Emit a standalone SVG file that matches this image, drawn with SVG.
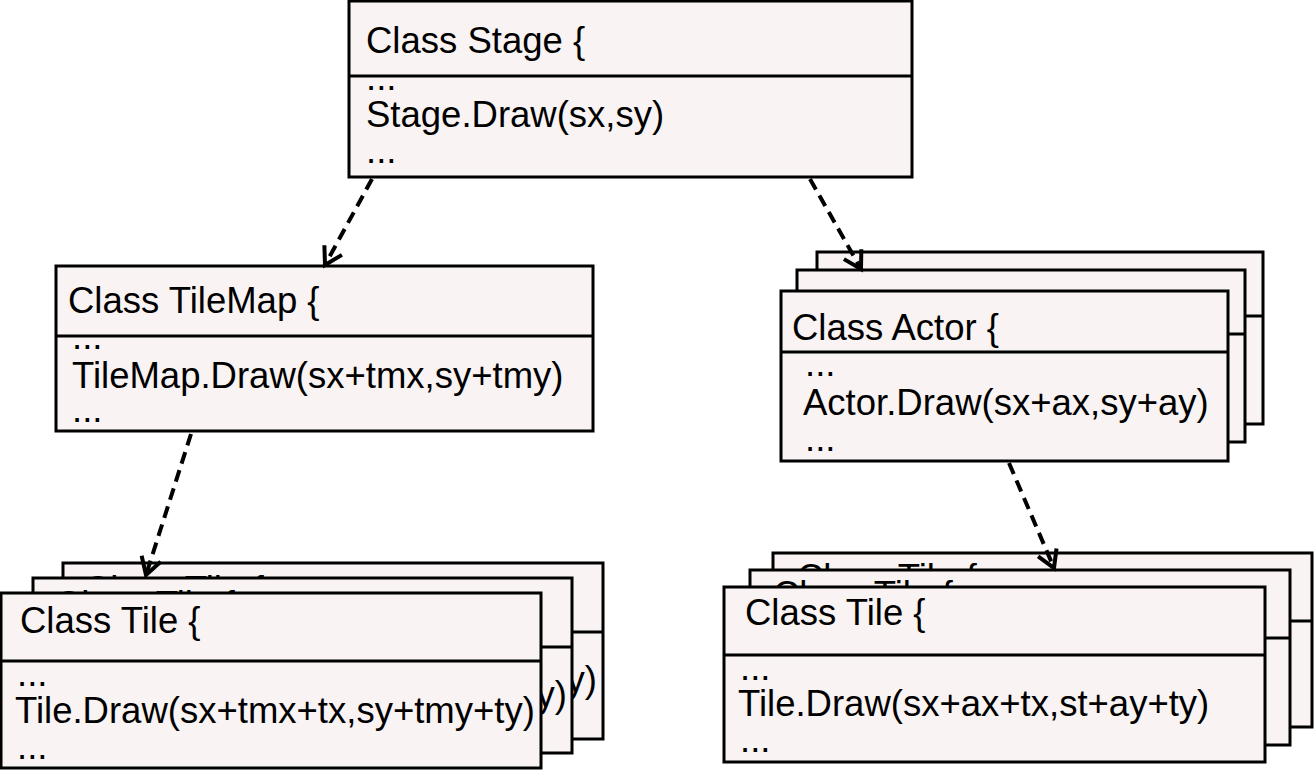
<svg xmlns="http://www.w3.org/2000/svg" width="1315" height="770" viewBox="0 0 1315 770">
  <style>
    .box { fill: #f9f3f3; stroke: #000; stroke-width: 3; }
    .div { stroke: #000; stroke-width: 3; fill: none; }
    .t { font-family: "Liberation Sans", Arial, sans-serif; font-size: 36.5px; fill: #000; }
    .e { text-anchor: end; }
    .conn { stroke: #000; stroke-width: 4; fill: none; stroke-dasharray: 12 7; }
  </style>
  <defs>
    <marker id="arr" markerUnits="userSpaceOnUse" viewBox="-20 -13 24 26" markerWidth="24" markerHeight="26" refX="0" refY="0" orient="auto">
      <path d="M -17 -10 L 0 0 L -17 10" fill="none" stroke="#000" stroke-width="4" stroke-dasharray="none"/>
    </marker>
    <clipPath id="clipLB"><rect x="63" y="563" width="540" height="15"/></clipPath>
    <clipPath id="clipLM"><rect x="33" y="578" width="539" height="15"/></clipPath>
    <clipPath id="clipRB"><rect x="773" y="553" width="539" height="17"/></clipPath>
    <clipPath id="clipRM"><rect x="750" y="570" width="540" height="17"/></clipPath>
  </defs>
  <rect width="1315" height="770" fill="#fff"/>

  <g id="stage">
    <rect class="box" x="349" y="1" width="563" height="176"/>
    <line class="div" x1="349" y1="76" x2="912" y2="76"/>
    <text class="t" x="366" y="53">Class Stage {</text>
    <text class="t" x="366" y="90">...</text>
    <text class="t" x="366" y="127">Stage.Draw(sx,sy)</text>
    <text class="t" x="366" y="163">...</text>
  </g>

  <g id="tilemap">
    <rect class="box" x="56" y="266" width="537" height="165"/>
    <line class="div" x1="56" y1="336" x2="593" y2="336"/>
    <text class="t" x="68" y="313">Class TileMap {</text>
    <text class="t" x="72" y="349">...</text>
    <text class="t" x="72" y="388">TileMap.Draw(sx+tmx,sy+tmy)</text>
    <text class="t" x="72" y="422">...</text>
  </g>

  <g id="actor-back">
    <rect class="box" x="817" y="252" width="446" height="172"/>
    <line class="div" x1="817" y1="316" x2="1263" y2="316"/>
  </g>
  <g id="actor-mid">
    <rect class="box" x="797" y="270" width="448" height="172"/>
    <line class="div" x1="797" y1="334" x2="1245" y2="334"/>
  </g>
  <g id="actor">
    <rect class="box" x="781" y="291" width="447" height="170"/>
    <line class="div" x1="781" y1="352" x2="1228" y2="352"/>
    <text class="t" x="792" y="340">Class Actor {</text>
    <text class="t" x="805" y="376">...</text>
    <text class="t" x="803" y="415">Actor.Draw(sx+ax,sy+ay)</text>
    <text class="t" x="805" y="451">...</text>
  </g>

  <g id="tile-left-back">
    <rect class="box" x="63" y="563" width="540" height="176"/>
    <line class="div" x1="63" y1="632" x2="603" y2="632"/>
    <text class="t" x="84" y="602" clip-path="url(#clipLB)">Class Tile {</text>
    <text class="t e" x="597" y="692">y)</text>
  </g>
  <g id="tile-left-mid">
    <rect class="box" x="33" y="578" width="539" height="175"/>
    <line class="div" x1="33" y1="647" x2="572" y2="647"/>
    <text class="t" x="55" y="617" clip-path="url(#clipLM)">Class Tile {</text>
    <text class="t e" x="567" y="707">y)</text>
  </g>
  <g id="tile-left">
    <rect class="box" x="1" y="593" width="540" height="175"/>
    <line class="div" x1="1" y1="661" x2="541" y2="661"/>
    <text class="t" x="20" y="633">Class Tile {</text>
    <text class="t" x="17" y="686">...</text>
    <text class="t" x="15" y="723">Tile.Draw(sx+tmx+tx,sy+tmy+ty)</text>
    <text class="t" x="17" y="759">...</text>
  </g>

  <g id="tile-right-back">
    <rect class="box" x="773" y="553" width="539" height="174"/>
    <line class="div" x1="773" y1="621" x2="1312" y2="621"/>
    <text class="t" x="797" y="590" clip-path="url(#clipRB)">Class Tile {</text>
  </g>
  <g id="tile-right-mid">
    <rect class="box" x="750" y="570" width="540" height="175"/>
    <line class="div" x1="750" y1="638" x2="1290" y2="638"/>
    <text class="t" x="773" y="607" clip-path="url(#clipRM)">Class Tile {</text>
  </g>
  <g id="tile-right">
    <rect class="box" x="724" y="587" width="541" height="175"/>
    <line class="div" x1="724" y1="655" x2="1265" y2="655"/>
    <text class="t" x="745" y="625">Class Tile {</text>
    <text class="t" x="740" y="680">...</text>
    <text class="t" x="738" y="716">Tile.Draw(sx+ax+tx,st+ay+ty)</text>
    <text class="t" x="740" y="752">...</text>
  </g>

  <g id="connectors">
    <line class="conn" x1="372" y1="179" x2="325" y2="265" marker-end="url(#arr)"/>
    <line class="conn" x1="810" y1="179" x2="861" y2="269" marker-end="url(#arr)"/>
    <line class="conn" x1="191" y1="434" x2="146" y2="575" marker-end="url(#arr)"/>
    <line class="conn" x1="1009" y1="463" x2="1054" y2="568" marker-end="url(#arr)"/>
  </g>
</svg>
